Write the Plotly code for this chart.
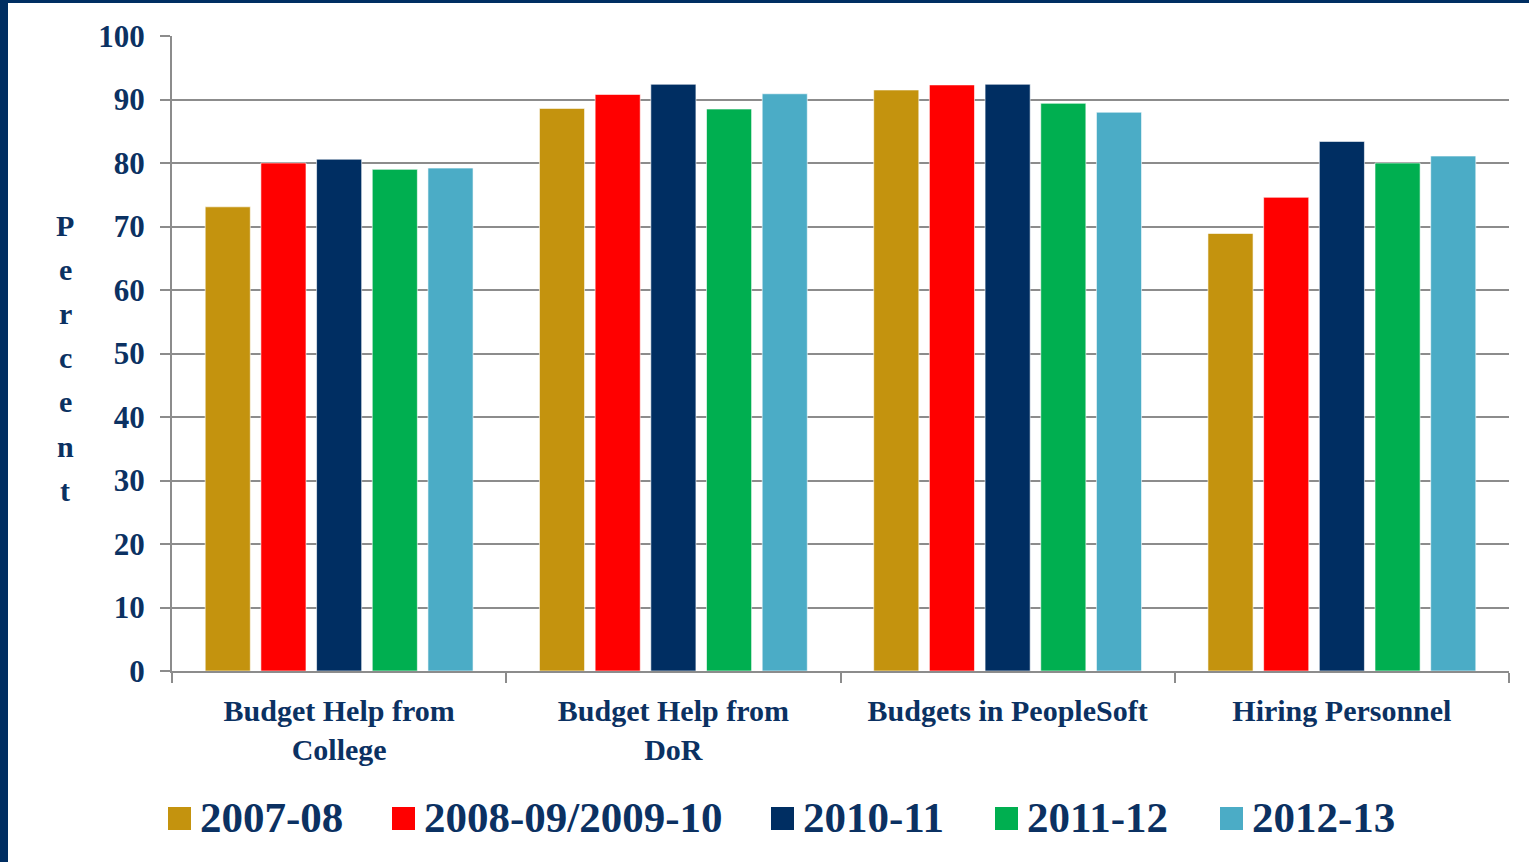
import plotly.graph_objects as go

# Survey categories and yearly percentages
categories = ["Budget Help from<br>College", "Budget Help from<br>DoR",
              "Budgets in PeopleSoft", "Hiring Personnel"]
years = ["2007-08", "2008-09/2009-10", "2010-11", "2011-12", "2012-13"]
values_2007_08 = [73.1, 88.6, 91.5, 68.9]
values_2008_10 = [80.0, 90.8, 92.3, 74.6]
values_2010_11 = [80.6, 92.4, 92.4, 83.4]
values_2011_12 = [79.0, 88.5, 89.4, 80.0]
values_2012_13 = [79.2, 90.9, 88.0, 81.1]
series = [values_2007_08, values_2008_10, values_2010_11, values_2011_12, values_2012_13]
colors = ["#C4930E", "#FF0000", "#002E62", "#00AF50", "#4BACC6"]
y_ticks = list(range(0, 101, 10))

TEXT = "#0B3162"
GRID = "#8C8C8C"
FONT = "Liberation Serif"

W, H = 1529, 862
ML, MR, MT, MB = 172, 20, 36, 191
PW, PH = W - ML - MR, H - MT - MB


def px_x(p):
    return (p - ML) / PW


def px_y(p):
    return 1 - (p - MT) / PH


fig = go.Figure()
for name, vals, col in zip(years, series, colors):
    fig.add_trace(go.Bar(x=categories, y=vals, name=name,
                         marker=dict(color=col, line=dict(color="rgba(255,255,255,0.6)", width=1))))

fig.update_layout(
    width=W, height=H,
    margin=dict(l=ML, r=MR, t=MT, b=MB),
    paper_bgcolor="white", plot_bgcolor="white",
    barmode="group", bargap=0.167, bargroupgap=0.19,
    showlegend=False,
    font=dict(family=FONT, color=TEXT),
)
fig.update_yaxes(
    range=[0, 100], tickvals=y_ticks, showgrid=True, gridcolor=GRID, gridwidth=2,
    showline=True, linecolor=GRID, linewidth=2, ticks="outside", ticklen=10,
    tickcolor=GRID, tickwidth=2,
    tickfont=dict(size=31, family=FONT, color=TEXT, weight="bold"),
    ticklabelstandoff=9, zeroline=False,
)
fig.update_xaxes(
    showline=True, linecolor=GRID, linewidth=2, ticks="outside", ticklen=10,
    tickcolor=GRID, tickwidth=2, tickson="boundaries",
    tickfont=dict(size=30, family=FONT, color=TEXT, weight="bold"), ticklabelstandoff=12,
)

# Vertical "Percent" axis title, one letter per line
for i, ch in enumerate("Percent"):
    fig.add_annotation(text="<b>%s</b>" % ch, xref="paper", yref="paper",
                       x=px_x(65), y=px_y(225 + i * 44.2), showarrow=False,
                       xanchor="center", yanchor="middle",
                       font=dict(size=30, family=FONT, color=TEXT))

# Legend row: coloured squares with year labels
legend_sq_x = [168, 392, 771, 995, 1220]
for name, col, sx in zip(years, colors, legend_sq_x):
    fig.add_shape(type="rect", xref="paper", yref="paper",
                  x0=px_x(sx), x1=px_x(sx + 23), y0=px_y(830), y1=px_y(807),
                  fillcolor=col, line=dict(width=0))
    fig.add_annotation(text="<b>%s</b>" % name, xref="paper", yref="paper",
                       x=px_x(sx + 30), y=px_y(817), showarrow=False,
                       xanchor="left", yanchor="middle",
                       font=dict(size=43, family=FONT, color=TEXT))

# Navy frame along the left and top edges
fig.add_shape(type="rect", xref="paper", yref="paper", x0=px_x(0), x1=px_x(8),
              y0=px_y(H), y1=px_y(0), fillcolor="#002E62", line=dict(width=0))
fig.add_shape(type="rect", xref="paper", yref="paper", x0=px_x(0), x1=px_x(W),
              y0=px_y(3), y1=px_y(0), fillcolor="#002E62", line=dict(width=0))

fig.write_html("out.html")
